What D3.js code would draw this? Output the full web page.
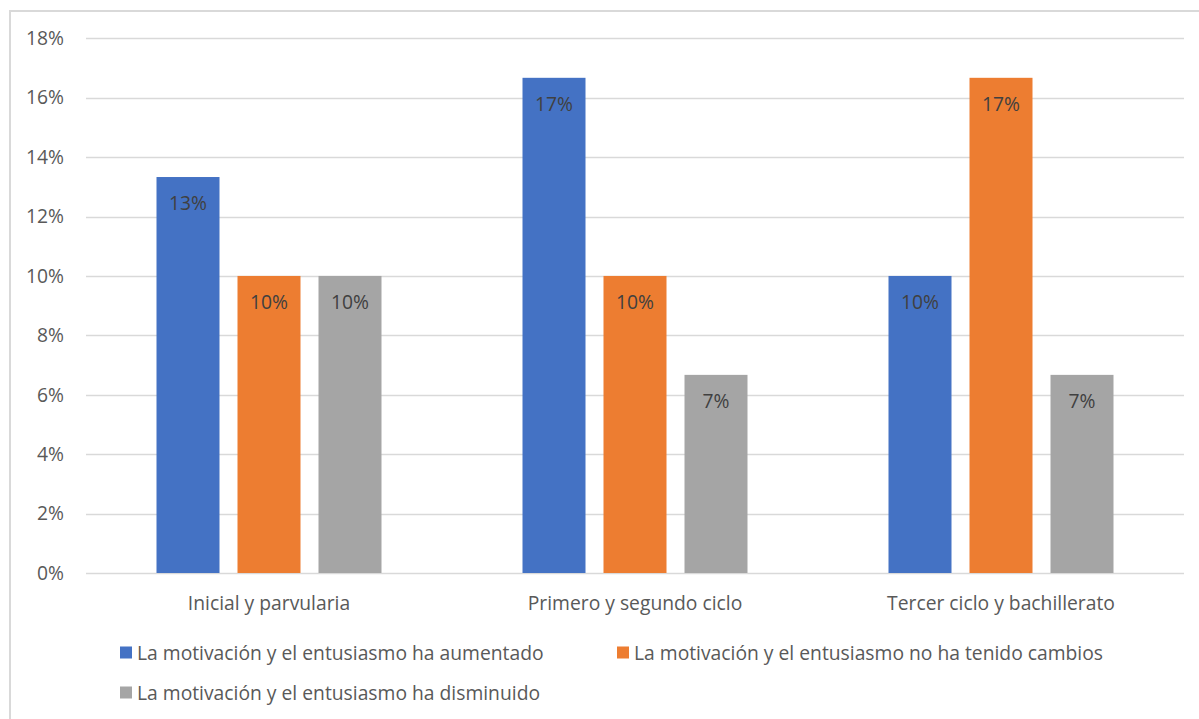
<!DOCTYPE html>
<html><head><meta charset="utf-8">
<script src="https://cdn.jsdelivr.net/npm/d3@7"></script>
<style>
html,body{margin:0;padding:0;background:#fff;}
svg{display:block;font-family:"Open Sans",sans-serif;}
</style></head>
<body>
<svg id="c" width="1199" height="719"></svg>
<script>
const categories = ["Inicial y parvularia", "Primero y segundo ciclo", "Tercer ciclo y bachillerato"];
const seriesNames = [
  "La motivación y el entusiasmo ha aumentado",
  "La motivación y el entusiasmo no ha tenido cambios",
  "La motivación y el entusiasmo ha disminuido"
];
const aumentado = [0.1333, 0.1667, 0.10];
const sinCambios = [0.10, 0.10, 0.1667];
const disminuido = [0.10, 0.0667, 0.0667];
const dataLabels = [["13%", "17%", "10%"], ["10%", "10%", "17%"], ["10%", "7%", "7%"]];
const yTicks = [0, 0.02, 0.04, 0.06, 0.08, 0.10, 0.12, 0.14, 0.16, 0.18];
const colors = ["#4472C4", "#ED7D31", "#A5A5A5"];
const seriesValues = [aumentado, sinCambios, disminuido];

(function () {
const svg = d3.select("#c");
svg.append("rect").attr("x", 10).attr("y", 11).attr("width", 1200).attr("height", 720)
  .attr("fill", "none").attr("stroke", "#d9d9d9").attr("stroke-width", 2);

const pL = 86, pR = 1184, pT = 38.3, pB = 573;
const fs = 19.3;
const y = d3.scaleLinear().domain([0, 0.18]).range([pB, pT]);
const x0 = d3.scaleBand().domain(categories).range([pL, pR]).padding(0);
const groupW = 225;
const x1 = d3.scaleBand().domain(d3.range(3)).range([0, groupW]).paddingInner(0.2222).paddingOuter(0);
const off = (x0.bandwidth() - groupW) / 2;

svg.append("g").selectAll("line").data(yTicks).join("line")
  .attr("x1", pL).attr("x2", pR)
  .attr("y1", d => Math.round(y(d)) + 0.5).attr("y2", d => Math.round(y(d)) + 0.5)
  .attr("stroke", "#d9d9d9").attr("stroke-width", 1.5);

svg.append("g").selectAll("text").data(yTicks).join("text")
  .attr("x", 64).attr("y", d => y(d)).attr("dy", "0.35em")
  .attr("text-anchor", "end").attr("fill", "#595959").attr("font-size", fs)
  .text(d => d3.format(".0%")(d));

seriesValues.forEach((vals, s) => {
  const g = svg.append("g");
  g.selectAll("rect").data(vals).join("rect")
    .attr("x", (d, i) => x0(categories[i]) + off + x1(s))
    .attr("width", x1.bandwidth())
    .attr("y", d => y(d))
    .attr("height", d => pB - y(d))
    .attr("fill", colors[s]);
  g.selectAll("text").data(vals).join("text")
    .attr("x", (d, i) => x0(categories[i]) + off + x1(s) + x1.bandwidth() / 2)
    .attr("y", d => y(d) + 26).attr("dy", "0.35em")
    .attr("text-anchor", "middle").attr("fill", "#404040").attr("font-size", fs)
    .text((d, i) => dataLabels[s][i]);
});

svg.append("g").selectAll("text").data(categories).join("text")
  .attr("x", d => x0(d) + x0.bandwidth() / 2).attr("y", 603).attr("dy", "0.35em")
  .attr("text-anchor", "middle").attr("fill", "#595959").attr("font-size", fs)
  .text(d => d);

const legendPos = [[120, 653], [617, 653], [120, 693]];
seriesNames.forEach((name, s) => {
  const [lx, ly] = legendPos[s];
  svg.append("rect").attr("x", lx).attr("y", ly - 6.5).attr("width", 12).attr("height", 12).attr("fill", colors[s]);
  svg.append("text").attr("x", lx + 17).attr("y", ly).attr("dy", "0.35em")
    .attr("fill", "#595959").attr("font-size", fs).text(name);
});
})();
</script>
</body></html>
